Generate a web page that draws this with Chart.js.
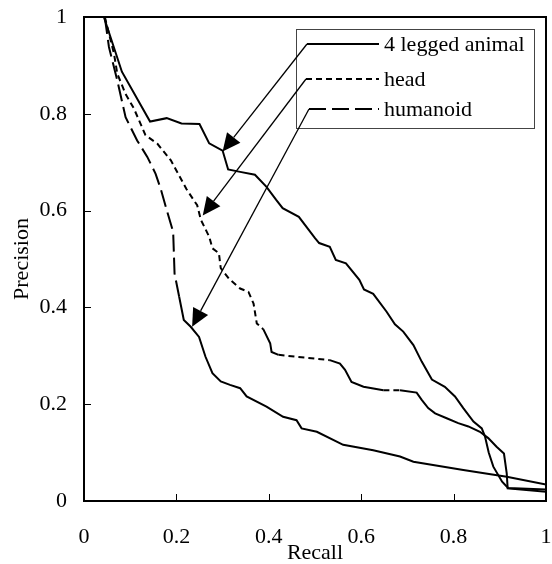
<!DOCTYPE html>
<html>
<head>
<meta charset="utf-8">
<script src="https://cdn.jsdelivr.net/npm/chart.js@4.4.0/dist/chart.umd.min.js"></script>
<style>
  html, body { margin: 0; padding: 0; background: #fff; }
</style>
</head>
<body>
<canvas id="prChart" width="552" height="564"></canvas>
<script>
// ==================== DATA ====================
const seriesNames = ['4 legged animal', 'head', 'humanoid'];

const animalRecall = [0.043, 0.082, 0.143, 0.179, 0.211, 0.250, 0.271, 0.300, 0.312, 0.338, 0.370, 0.395, 0.416, 0.430, 0.465, 0.500, 0.509, 0.532, 0.545, 0.567, 0.596, 0.606, 0.626, 0.655, 0.673, 0.691, 0.713, 0.731, 0.753, 0.781, 0.803, 0.821, 0.843, 0.861, 0.868, 0.876, 0.886, 0.905, 0.918, 1.0];
const animalPrecision = [1.0, 0.887, 0.784, 0.791, 0.780, 0.779, 0.739, 0.724, 0.685, 0.680, 0.674, 0.649, 0.622, 0.605, 0.587, 0.543, 0.533, 0.525, 0.498, 0.491, 0.457, 0.437, 0.428, 0.391, 0.365, 0.350, 0.322, 0.288, 0.251, 0.236, 0.216, 0.192, 0.164, 0.150, 0.133, 0.100, 0.071, 0.040, 0.027, 0.024];

const headRecall = [0.045, 0.065, 0.072, 0.090, 0.108, 0.133, 0.159, 0.188, 0.222, 0.245, 0.253, 0.271, 0.278, 0.292, 0.296, 0.314, 0.338, 0.356, 0.367, 0.374, 0.388, 0.403, 0.406, 0.421, 0.460, 0.532, 0.554, 0.565, 0.579, 0.605, 0.648, 0.684, 0.720, 0.731, 0.745, 0.760, 0.785, 0.810, 0.832, 0.857, 0.875, 0.893, 0.909, 0.915, 0.917, 1.0];
const headPrecision = [1.0, 0.924, 0.883, 0.841, 0.811, 0.756, 0.738, 0.704, 0.644, 0.611, 0.581, 0.546, 0.522, 0.512, 0.481, 0.459, 0.439, 0.432, 0.408, 0.367, 0.355, 0.326, 0.308, 0.302, 0.298, 0.291, 0.284, 0.271, 0.246, 0.236, 0.229, 0.229, 0.224, 0.209, 0.192, 0.181, 0.171, 0.161, 0.154, 0.143, 0.130, 0.112, 0.098, 0.057, 0.026, 0.019];

const humanoidRecall = [0.045, 0.054, 0.072, 0.090, 0.115, 0.137, 0.155, 0.166, 0.177, 0.193, 0.196, 0.206, 0.216, 0.231, 0.249, 0.263, 0.278, 0.296, 0.316, 0.338, 0.352, 0.395, 0.431, 0.460, 0.471, 0.504, 0.561, 0.626, 0.684, 0.713, 0.821, 0.915, 1.0];
const humanoidPrecision = [1.0, 0.938, 0.869, 0.793, 0.745, 0.711, 0.676, 0.645, 0.608, 0.556, 0.470, 0.422, 0.374, 0.360, 0.339, 0.298, 0.264, 0.247, 0.240, 0.233, 0.216, 0.195, 0.174, 0.167, 0.150, 0.143, 0.116, 0.105, 0.092, 0.081, 0.064, 0.050, 0.034];

// where each legend arrow points on its curve (recall, precision)
const arrowTipRecall = [0.300, 0.257, 0.234];
const arrowTipPrecision = [0.722, 0.590, 0.360];

const xTicks = [0, 0.2, 0.4, 0.6, 0.8, 1];
const yTicks = [0, 0.2, 0.4, 0.6, 0.8, 1];

// ==================== STYLE ====================
const FONT = '"Liberation Serif", "Times New Roman", serif';
const dashes = [[], [6, 4], [17, 6]];

// recall ranges where the dash pattern is still visible (dense points look solid elsewhere)
const dashedRanges = [
    [],
    [[0, 0.38], [0.42, 0.53], [0.62, 0.68]],
    [[0, 0.197]]
];

const toPoints = (xs, ys) => xs.map((x, i) => ({ x: x, y: ys[i] }));

const inRanges = (v, ranges) => ranges.some(r => v >= r[0] && v < r[1]);

// ==================== FRAME, TICKS, LEGEND, ARROWS ====================
const framePlugin = {
    id: 'frame',
    afterDatasetsDraw(chart) {
        const { ctx, chartArea: a, scales } = chart;
        ctx.save();
        ctx.strokeStyle = '#000';

        // inward tick marks
        ctx.lineWidth = 1;
        xTicks.forEach(v => {
            const px = Math.round(scales.x.getPixelForValue(v)) + 0.5;
            ctx.beginPath();
            ctx.moveTo(px, a.bottom);
            ctx.lineTo(px, a.bottom - 7);
            ctx.stroke();
        });
        yTicks.forEach(v => {
            const py = Math.round(scales.y.getPixelForValue(v)) + 0.5;
            ctx.beginPath();
            ctx.moveTo(a.left, py);
            ctx.lineTo(a.left + 7, py);
            ctx.stroke();
        });

        // plot border
        ctx.lineWidth = 2;
        ctx.strokeRect(a.left, a.top, a.right - a.left, a.bottom - a.top);

        // legend box
        const boxLeft = a.right - 250;
        const boxTop = a.top + 12;
        ctx.lineWidth = 1;
        ctx.strokeStyle = '#444';
        ctx.strokeRect(boxLeft + 0.5, boxTop + 0.5, 238, 99);

        const rowY = [boxTop + 15, boxTop + 50, boxTop + 80];
        const lineStart = [boxLeft + 11, boxLeft + 10, boxLeft + 13];
        const lineEnd = boxLeft + 83;
        ctx.strokeStyle = '#000';
        ctx.fillStyle = '#000';
        ctx.font = '22px ' + FONT;
        ctx.textBaseline = 'middle';
        ctx.textAlign = 'left';

        seriesNames.forEach((name, i) => {
            ctx.lineWidth = 1.8;
            ctx.setLineDash(dashes[i]);
            ctx.beginPath();
            ctx.moveTo(lineStart[i], rowY[i]);
            ctx.lineTo(lineEnd, rowY[i]);
            ctx.stroke();
            ctx.setLineDash([]);
            ctx.fillText(name, lineEnd + 5, rowY[i] + 1);

            // arrow from legend line to its curve
            const tx = scales.x.getPixelForValue(arrowTipRecall[i]);
            const ty = scales.y.getPixelForValue(arrowTipPrecision[i]);
            const sx = lineStart[i];
            const sy = rowY[i];
            const ang = Math.atan2(ty - sy, tx - sx);
            const len = 18;
            const half = 8.5;
            const bx = tx - Math.cos(ang) * len;
            const by = ty - Math.sin(ang) * len;

            ctx.lineWidth = 1.3;
            ctx.beginPath();
            ctx.moveTo(sx, sy);
            ctx.lineTo(bx, by);
            ctx.stroke();

            ctx.beginPath();
            ctx.moveTo(tx, ty);
            ctx.lineTo(bx + Math.sin(ang) * half, by - Math.cos(ang) * half);
            ctx.lineTo(bx - Math.sin(ang) * half, by + Math.cos(ang) * half);
            ctx.closePath();
            ctx.fill();
        });

        ctx.restore();
    }
};

// ==================== CHART ====================
const tickFont = { family: FONT, size: 22 };

new Chart(document.getElementById('prChart').getContext('2d'), {
    type: 'scatter',
    data: {
        datasets: [
            { label: seriesNames[0], data: toPoints(animalRecall, animalPrecision) },
            { label: seriesNames[1], data: toPoints(headRecall, headPrecision) },
            { label: seriesNames[2], data: toPoints(humanoidRecall, humanoidPrecision) }
        ].map((ds, i) => Object.assign(ds, {
            showLine: true,
            borderColor: '#000',
            borderWidth: 2,
            pointRadius: 0,
            tension: 0,
            fill: false,
            segment: {
                borderDash: c => inRanges(c.p0.parsed.x, dashedRanges[i]) ? dashes[i] : []
            }
        }))
    },
    options: {
        responsive: false,
        animation: false,
        layout: { padding: { top: 17, right: 6, left: 0, bottom: 0 } },
        plugins: {
            legend: { display: false },
            tooltip: { enabled: false }
        },
        scales: {
            x: {
                type: 'linear',
                min: 0,
                max: 1,
                grid: { display: false, drawTicks: false },
                border: { display: false },
                ticks: {
                    font: tickFont,
                    color: '#000',
                    padding: 23,
                    maxRotation: 0,
                    autoSkip: false,
                    callback: v => String(v)
                },
                title: {
                    display: true,
                    text: 'Recall',
                    color: '#000',
                    font: { family: FONT, size: 22, lineHeight: 1 },
                    padding: 0
                },
                afterBuildTicks: s => { s.ticks = xTicks.map(v => ({ value: v })); },
                afterFit: s => { s.height = 63; s.paddingLeft = 0; s.paddingRight = 0; }
            },
            y: {
                type: 'linear',
                min: 0,
                max: 1,
                grid: { display: false, drawTicks: false },
                border: { display: false },
                ticks: {
                    font: tickFont,
                    color: '#000',
                    padding: 17,
                    autoSkip: false,
                    callback: v => String(v)
                },
                title: {
                    display: true,
                    text: 'Precision',
                    color: '#000',
                    font: { family: FONT, size: 22, lineHeight: 1 },
                    padding: { top: 11, bottom: 0 }
                },
                afterBuildTicks: s => { s.ticks = yTicks.map(v => ({ value: v })); },
                afterFit: s => { s.width = 84; s.paddingTop = 0; s.paddingBottom = 0; }
            }
        }
    },
    plugins: [framePlugin]
});
</script>
</body>
</html>
